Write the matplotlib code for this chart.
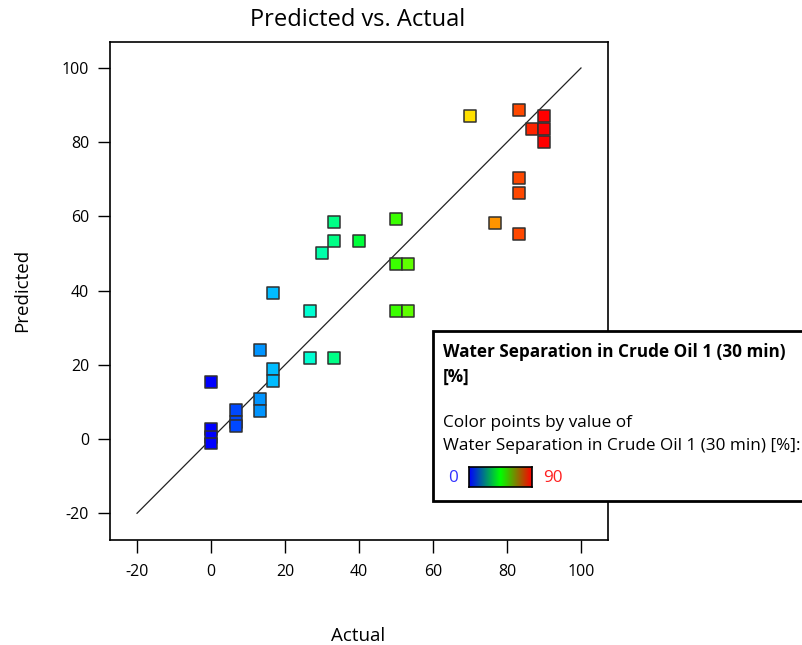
import matplotlib
matplotlib.use("Agg")
import matplotlib.pyplot as plt
import numpy as np
from matplotlib.colors import LinearSegmentedColormap
from matplotlib.patches import Rectangle

plt.rcParams["font.family"] = ["Open Sans", "DejaVu Sans"]
plt.rcParams["axes.unicode_minus"] = False

# actual vs predicted water separation (%)
actual = [0, 0, 0, 0, 6.67, 6.67, 6.67, 13.33, 13.33, 13.33, 16.67, 16.67, 16.67,
          26.67, 26.67, 30, 33.33, 33.33, 33.33, 40, 50, 50, 50, 53.33, 53.33,
          70, 76.67, 83.33, 83.33, 83.33, 83.33, 86.67, 90, 90, 90]
predicted = [15.4, 2.7, 0.5, -1.2, 7.8, 4.5, 3.5, 24.0, 10.8, 7.5, 39.4, 18.9, 15.6,
             34.5, 21.8, 50.1, 58.5, 53.4, 21.8, 53.4, 59.3, 47.2, 34.5, 47.2, 34.5,
             87.1, 58.2, 88.7, 70.3, 66.3, 55.3, 83.6, 87.1, 83.6, 80.0]
ticks = [-20, 0, 20, 40, 60, 80, 100]
vmin, vmax = 0, 90

pts_cmap = LinearSegmentedColormap.from_list(
    "pts", ["#0000ff", "#00ffff", "#00ff00", "#ffff00", "#ff0000"])
bar_cmap = LinearSegmentedColormap.from_list("bar", ["#0000ff", "#00ff00", "#ff0000"])

fig = plt.figure(figsize=(8.03, 6.45), dpi=100)
ax = fig.add_axes([110 / 803, 1 - 540 / 645, 498 / 803, 498 / 645])

ax.plot([-20, 100], [-20, 100], color="#222222", lw=0.9, zorder=1)
ax.scatter(actual, predicted, c=actual, cmap=pts_cmap, vmin=vmin, vmax=vmax,
           marker="s", s=72, edgecolors="#303030", linewidths=1.1, zorder=3)

ax.set_xlim(-27.3, 107.3)
ax.set_ylim(-27.2, 107.0)
ax.set_xticks(ticks)
ax.set_yticks(ticks)
ax.tick_params(direction="out", length=9, width=1, labelsize=11.5, pad=6)
ax.tick_params(axis="x", pad=8)
for s in ax.spines.values():
    s.set_linewidth(1.2)

fig.text(358 / 803, 1 - 20 / 645, "Predicted vs. Actual", ha="center", va="center", fontsize=17)
fig.text(358 / 803, 1 - 636 / 645, "Actual", ha="center", va="center", fontsize=13.5)
fig.text(22 / 803, 1 - 290 / 645, "Predicted", ha="center", va="center",
         rotation=90, fontsize=13.5)

# legend panel (runs off the right edge like the original)
fig.patches.append(Rectangle((433 / 803, 1 - 501 / 645), 400 / 803, 170 / 645,
                             transform=fig.transFigure, facecolor="white",
                             edgecolor="black", lw=2, zorder=10))
lx = 443 / 803
fs = 12.3
fig.text(lx, 1 - 352 / 645, "Water Separation in Crude Oil 1 (30 min)",
         fontsize=fs, fontweight="bold", va="center", zorder=11)
fig.text(lx, 1 - 377 / 645, "[%]", fontsize=fs, fontweight="bold", va="center", zorder=11)
fig.text(lx, 1 - 423 / 645, "Color points by value of", fontsize=fs, va="center", zorder=11)
fig.text(lx, 1 - 446 / 645, "Water Separation in Crude Oil 1 (30 min) [%]:",
         fontsize=fs, va="center", zorder=11)
fig.text(453 / 803, 1 - 478 / 645, str(vmin), fontsize=fs, color="#3333ff",
         ha="center", va="center", zorder=11)
fig.text(553 / 803, 1 - 478 / 645, str(vmax), fontsize=fs, color="#ff2020",
         ha="center", va="center", zorder=11)
cax = fig.add_axes([469 / 803, 1 - 487 / 645, 63 / 803, 20 / 645], zorder=12)
cax.imshow(np.linspace(0, 1, 256)[None, :], aspect="auto", cmap=bar_cmap)
cax.set_xticks([])
cax.set_yticks([])
for s in cax.spines.values():
    s.set_linewidth(1.2)

fig.savefig("out.png", dpi=100)
